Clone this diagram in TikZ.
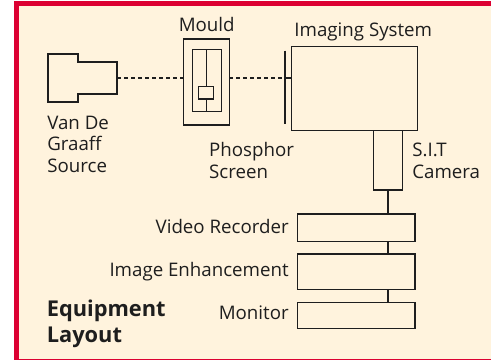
\documentclass[tikz,border=0pt]{standalone}
\usepackage{fontspec}
\setmainfont{Open Sans}
\usetikzlibrary{positioning}
\definecolor{cream}{RGB}{255,243,221}
\definecolor{framered}{RGB}{220,0,50}
\definecolor{ink}{RGB}{30,30,30}

\begin{document}
\begin{tikzpicture}[x=1bp,y=-1bp,line width=1.2bp,
  box/.style={draw=ink,rectangle,inner sep=0pt,outer sep=0pt},
  lbl/.style={font=\fontsize{18.7bp}{21.5bp}\selectfont,text=ink,inner sep=0pt,align=left},
  beam/.style={draw=ink,dash pattern=on 4bp off 3bp}]

  \useasboundingbox (0,0) rectangle (491,360);
  \fill[white] (0,0) rectangle (491,360);
  \fill[framered] (14,1) rectangle (491,360);
  \fill[cream] (19,6) rectangle (491,359);

  % source
  \draw[ink] (48,54) -- (78,54) -- (78,62) -- (117,62) -- (117,94)
    -- (78,94) -- (78,102) -- (48,102) -- cycle;
  \coordinate (src) at (117,78);
  \coordinate (screen) at (285,78);

  % mould
  \node[box,minimum width=46bp,minimum height=86bp] (mould) at (206.3,82) {};
  \draw[ink] (192.7,49.3) rectangle (221.7,111.7);
  \draw[ink] (198.7,86.7) rectangle (213.3,99);
  \draw[ink] (206.7,49.3) -- (206.7,86.7);
  \draw[ink] (206.7,99) -- (206.7,111.7);

  % imaging chain
  \node[box,minimum width=125.6bp,minimum height=84bp] (imaging) at (354.5,88.7) {};
  \node[box,minimum width=28.6bp,minimum height=59.3bp] (camera) at (388,160.3) {};
  \node[box,minimum width=117.3bp,minimum height=27.7bp] (video) at (356.3,227.8) {};
  \node[box,minimum width=117.3bp,minimum height=35.3bp] (enhance) at (356.3,271.7) {};
  \node[box,minimum width=117.3bp,minimum height=26.4bp] (monitor) at (356.3,315.5) {};

  \draw[beam] (src) -- (src -| mould.west);
  \draw[beam] (mould.east |- src) -- (screen);
  \draw[ink] (screen) -- (imaging.west |- screen);
  \draw[ink,line width=2bp] (285,50.7) -- (285,124);

  \draw[ink] (camera.south) -- (camera.south |- video.north);
  \draw[ink] (video.south -| camera) -- (enhance.north -| camera);
  \draw[ink] (enhance.south -| camera) -- (monitor.north -| camera);

  % labels (base = last line)
  \node[lbl,anchor=base] (mouldlbl) at (206.7,31) {Mould};
  \node[lbl,anchor=base] (imaginglbl) at (363.3,36) {Imaging System};
  \node[lbl,anchor=base west] (srclbl) at (46.7,172.3) {Van De\\Graaff\\Source};
  \node[lbl,anchor=base west] (screenlbl) at (208.5,178) {Phosphor\\Screen};
  \node[lbl,anchor=base west] (cameralbl) at (411.7,178.2) {S.I.T\\Camera};
  \node[lbl,anchor=base east] (videolbl) at (289.3,233.3) {Video Recorder};
  \node[lbl,anchor=base east] (enhancelbl) at (289.3,276.7) {Image Enhancement};
  \node[lbl,anchor=base east] (monitorlbl) at (289.3,319.3) {Monitor};
  \node[lbl,font=\fontsize{21.8bp}{25.6bp}\selectfont\bfseries,anchor=base west]
    (title) at (46.2,342.3) {Equipment\\Layout};
\end{tikzpicture}
\end{document}
